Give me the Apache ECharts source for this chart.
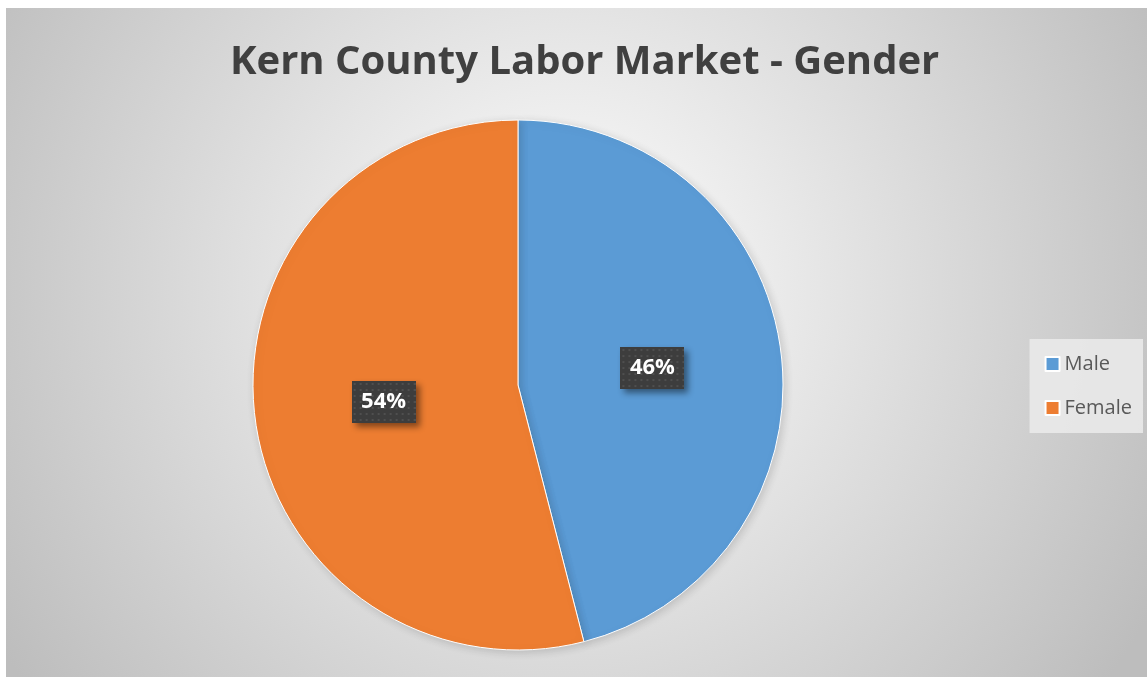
<!DOCTYPE html>
<html>
<head>
<meta charset="utf-8">
<script src="https://cdn.jsdelivr.net/npm/echarts@6/dist/echarts.min.js"></script>
<style>
  html, body { margin: 0; padding: 0; background: #fff; }
  #chart { position: absolute; left: 6px; top: 8px; width: 1141px; height: 669px; }
</style>
</head>
<body>
<div id="chart"></div>
<script>
  // 数据
  var categories = ['Male', 'Female'];
  var values = [46, 54];
  var colors = ['#5b9bd5', '#ed7d31'];

  // dotted dark box behind the data labels
  function dotBox(w, h) {
    var c = document.createElement('canvas');
    c.width = w; c.height = h;
    var g = c.getContext('2d');
    g.fillStyle = '#3d3d3d';
    g.fillRect(0, 0, w, h);
    g.fillStyle = '#4f4f4f';
    for (var y = 2; y < h; y += 6) {
      for (var x = 2; x < w; x += 6) {
        g.fillRect(x, y, 2, 2);
      }
    }
    return c;
  }

  var myChart = echarts.init(document.getElementById('chart'));
  myChart.setOption({
    backgroundColor: {
      type: 'radial', x: 0.49, y: 0.42, r: 1.0,
      colorStops: [
        { offset: 0, color: '#ffffff' },
        { offset: 1, color: '#bdbdbd' }
      ]
    },
    title: {
      text: 'Kern County Labor Market - Gender',
      left: 219,
      top: 30,
      textStyle: {
        fontFamily: 'Open Sans',
        fontWeight: 'bold',
        fontSize: 40,
        color: '#404040'
      }
    },
    legend: {
      orient: 'vertical',
      right: 4,
      top: 331,
      data: categories,
      icon: 'rect',
      itemWidth: 14,
      itemHeight: 14,
      itemGap: 24,
      padding: [15, 11, 15, 15],
      backgroundColor: 'rgba(235,235,235,0.85)',
      textStyle: { fontFamily: 'Open Sans', fontSize: 20, color: '#595959' }
    },
    series: [
      {
        type: 'pie',
        center: [512, 377],
        radius: 265,
        startAngle: 90,
        clockwise: true,
        silent: true,
        itemStyle: {
          borderColor: '#ffffff',
          borderWidth: 1,
          shadowBlur: 8,
          shadowColor: 'rgba(0,0,0,0.15)',
          shadowOffsetX: 2,
          shadowOffsetY: 2
        },
        label: {
          show: true,
          position: 'inside',
          formatter: '{b|{c}%}',
          rich: {
            b: {
              fontFamily: 'Open Sans',
              fontWeight: 'bold',
              fontSize: 22,
              color: '#ffffff',
              width: 64,
              height: 42,
              align: 'center',
              backgroundColor: { image: dotBox(64, 42) },
              shadowBlur: 6,
              shadowColor: 'rgba(0,0,0,0.45)',
              shadowOffsetX: 4,
              shadowOffsetY: 4
            }
          }
        },
        labelLine: { show: false },
        data: categories.map(function (name, i) {
          return { name: name, value: values[i], itemStyle: { color: colors[i] } };
        })
      }
    ]
  });
</script>
</body>
</html>
